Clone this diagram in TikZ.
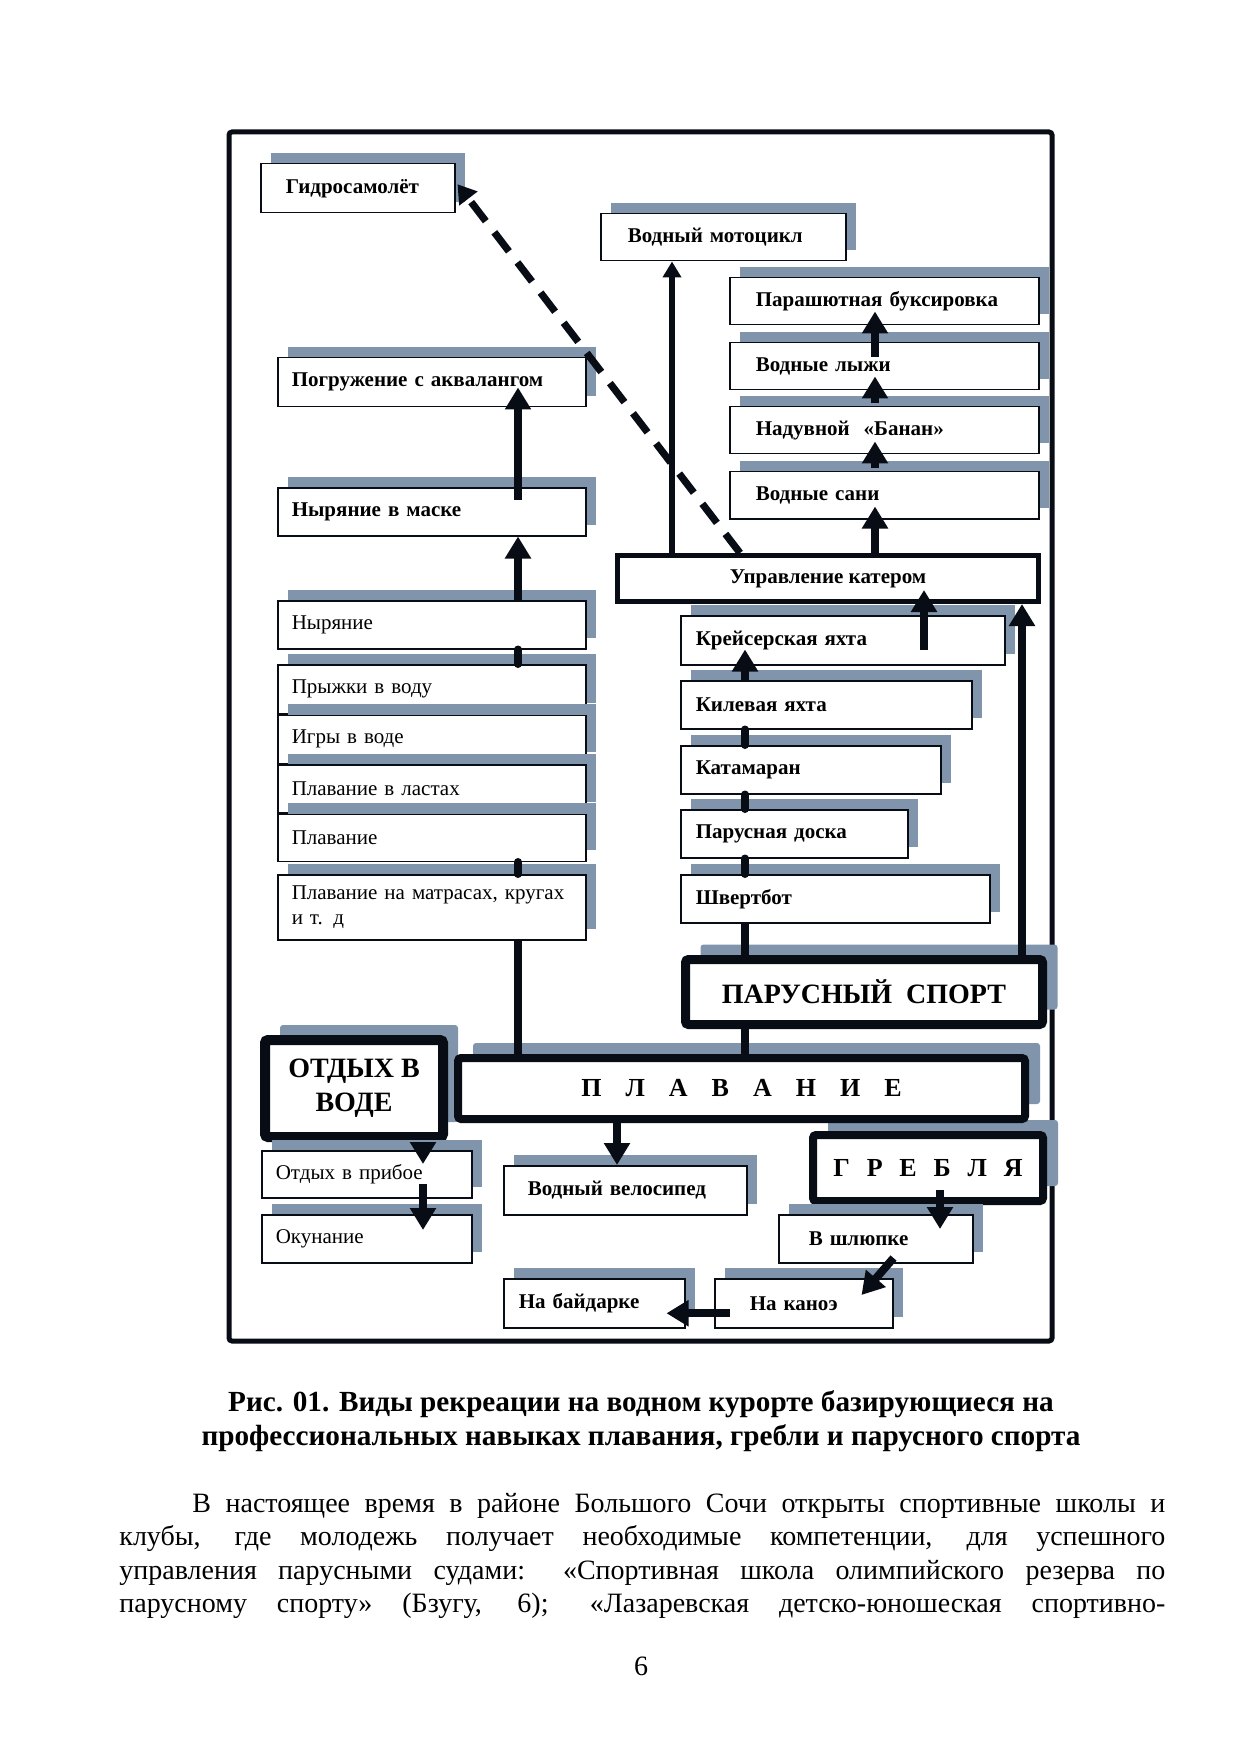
\documentclass[tikz,border=0pt]{standalone}
\usepackage{fontspec}
\setmainfont{Liberation Serif}
\usepackage{tikz}
\usetikzlibrary{arrows.meta,shadows,calc,positioning}
\definecolor{shadowblue}{RGB}{128,148,172}
\definecolor{inkblack}{RGB}{8,12,20}
\newcommand{\wgap}{\hspace{12pt}}
\newcommand{\ngap}{\hspace{8.4pt}}

\tikzset{
	box/.style={draw=inkblack, line width=0.75pt, fill=white, anchor=north west,
		inner ysep=0pt, align=left, minimum height=24pt,
		font=\fontsize{10.5}{12.5}\selectfont\bfseries,
		general shadow={fill=shadowblue, shadow xshift=5pt, shadow yshift=5.5pt}},
	lightbox/.style={box, font=\fontsize{10.5}{12.5}\selectfont},
	lbox/.style={box, text width=140pt, inner xsep=7pt},
	tbox/.style={box, text width=128.5pt, inner xsep=13pt, minimum height=23.5pt},
	sbox/.style={box, inner xsep=7.5pt},
	bigbox/.style={draw=inkblack, fill=white, anchor=north west, rounded corners=1.5pt,
		inner sep=0pt, align=center, font=\fontsize{14}{17}\selectfont\bfseries,
		general shadow={fill=shadowblue, shadow xshift=7.5pt, shadow yshift=7.5pt}},
	arr/.style={draw=inkblack, line width=4pt, -{Triangle[width=12.5pt,length=11pt]}},
	thinarr/.style={draw=inkblack, line width=3pt, -{Triangle[width=9pt,length=8pt]}},
	dasharr/.style={draw=inkblack, line width=3.6pt, dash pattern=on 12pt off 7pt,
		-{Triangle[width=11pt,length=9pt]}},
	bar/.style={draw=inkblack, line width=4pt, line cap=round},
	stem/.style={draw=inkblack, line width=4pt},
	pagetext/.style={inner sep=0pt, font=\fontsize{14}{17}\selectfont},
	captext/.style={inner sep=0pt, anchor=base, font=\fontsize{14.6}{17}\selectfont\bfseries}
}

\begin{document}
\begin{tikzpicture}[x=0.5pt,y=-0.5pt]
	\path[use as bounding box, fill=white] (0,0) rectangle (1241,1754);
	% frame
	\draw[draw=inkblack, line width=2.5pt, rounded corners=1.5pt] (229,132) rectangle (1052,1341);

	% columns of the connectors
	\coordinate (colL) at (518,0);
	\coordinate (colS) at (745,0);
	\coordinate (colK) at (924,0);
	\coordinate (colR) at (1022,0);
	\coordinate (colT) at (875,0);
	\coordinate (colM) at (672,0);
	\coordinate (colD) at (740,0);
	\coordinate (colV) at (617,0);
	\coordinate (colO) at (423,0);
	\coordinate (colG) at (940,0);

	% Define nodes
	\node[box, text width=72pt, inner xsep=12.5pt, minimum height=24.5pt] (gidro) at (260,163) {Гидросамолёт};
	\node[box, text width=95.5pt, inner xsep=13.5pt, minimum height=23.5pt] (moto) at (600,213) {Водный мотоцикл};

	\node[tbox] (para) at (729,277) {Парашютная буксировка};
	\node[tbox] (lyzhi) at (729,342) {Водные лыжи};
	\node[tbox] (banan) at (729,406) {Надувной \ «Банан»};
	\node[tbox] (sani) at (729,471) {Водные сани};

	\node[lbox, minimum height=24.5pt] (akva) at (277,357) {Погружение с аквалангом};
	\node[lbox] (maska) at (277,487) {Ныряние в маске};
	\node[lbox, lightbox] (nyr) at (277,600) {Ныряние};
	\node[lbox, lightbox, minimum height=24.5pt] (pryzh) at (277,664) {Прыжки в воду};
	\node[lbox, lightbox] (igry) at (pryzh.south west) {Игры в воде};
	\node[lbox, lightbox] (lasty) at (igry.south west) {Плавание в ластах};
	\node[lbox, lightbox, minimum height=23.5pt] (plav) at (lasty.south west) {Плавание};
	\node[lbox, lightbox, minimum height=32.5pt] (matr) at (277,874) {Плавание на матрасах, кругах\\и т. д};

	\node[draw=inkblack, line width=2.5pt, fill=white, anchor=north west, inner sep=0pt,
		minimum width=210.5pt, minimum height=23pt,
		font=\fontsize{10.5}{12.5}\selectfont\bfseries] (upr) at (615,553) {Управление катером};

	\node[sbox, text width=147pt, minimum height=24.5pt] (kreis) at (680,615) {Крейсерская яхта};
	\node[sbox, text width=130.5pt] (kil) at (680,680) {Килевая яхта};
	\node[sbox, text width=115pt] (katam) at (680,745) {Катамаран};
	\node[sbox, text width=98.5pt] (doska) at (680,809) {Парусная доска};
	\node[sbox, text width=139.5pt] (shvert) at (680,874) {Швертбот};

	\node[bigbox, line width=4.5pt, minimum width=178.5pt, minimum height=32.5pt] (sail) at (681,955) {ПАРУСНЫЙ \ СПОРТ};
	\node[bigbox, line width=5pt, minimum width=89pt, minimum height=48.5pt] (rest) at (260,1035) {ОТДЫХ В\\ВОДЕ};
	\node[bigbox, line width=4pt, minimum width=115pt, minimum height=33pt,
		font=\fontsize{13}{15}\selectfont\bfseries] (row) at (809,1131) {Г\ngap Р\ngap Е\ngap Б\ngap Л\ngap Я};
	\node[bigbox, line width=4pt, minimum width=283.5pt, minimum height=30.5pt,
		font=\fontsize{13}{15}\selectfont\bfseries] (swim) at (454,1054) {П\wgap Л\wgap А\wgap В\wgap А\wgap Н\wgap И\wgap Е};

	\node[box, lightbox, text width=91pt, inner xsep=7pt, minimum height=23.5pt] (pribo) at (261,1150) {Отдых в прибое};
	\node[box, lightbox, text width=91pt, inner xsep=7pt] (okun) at (261,1214) {Окунание};
	\node[box, text width=97.5pt, inner xsep=12pt, minimum height=24.5pt] (velo) at (503,1165) {Водный велосипед};
	\node[box, text width=67pt, inner xsep=15pt] (shlup) at (778,1214) {В шлюпке};
	\node[box, text width=75.5pt, inner xsep=7.5pt, minimum height=24.5pt] (baid) at (503,1278) {На байдарке};
	\node[box, text width=54pt, inner xsep=17.5pt, minimum height=24.5pt] (kano) at (714,1278) {На каноэ};

	% left column
	\draw[arr] ($(colL |- maska.north)+(0,13)$) -- ($(colL |- akva.south)+(0,-20)$);
	\draw[arr] (colL |- nyr.north) -- (colL |- maska.south);
	\draw[bar] (colL |- nyr.south) -- (colL |- pryzh.north);
	\draw[bar] (colL |- plav.south) -- (colL |- matr.north);
	\draw[stem] (colL |- matr.south) -- (colL |- swim.north);

	% sailing
	\draw[bar] (colS |- kil.south) -- (colS |- katam.north);
	\draw[bar] (colS |- katam.south) -- (colS |- doska.north);
	\draw[bar] (colS |- doska.south) -- (colS |- shvert.north);
	\draw[stem] (colS |- shvert.south) -- (colS |- sail.north);
	\draw[stem] (colS |- sail.south) -- (colS |- swim.north);
	\draw[arr] (colS |- kil.north) -- ($(colS |- kreis.south)+(0,-16)$);
	\draw[arr] ($(colK |- kreis.south)+(0,-16)$) -- ($(colK |- upr.south)+(0,-14)$);
	\draw[arr] (colR |- sail.north) -- (colR |- upr.south);

	% towing
	\draw[arr] (colT |- upr.north) -- ($(colT |- sani.south)+(0,-13)$);
	\draw[arr] ($(colT |- sani.north)+(0,-3)$) -- ($(colT |- banan.south)+(0,-13)$);
	\draw[arr] ($(colT |- banan.north)+(0,-3)$) -- ($(colT |- lyzhi.south)+(0,-14)$);
	\draw[arr] ($(colT |- lyzhi.north)+(0,15)$) -- ($(colT |- para.south)+(0,-14)$);
	\draw[thinarr] (colM |- upr.north) -- (colM |- moto.south);
	\draw[dasharr] (colD |- upr.north) -- ($(gidro.east)+(2,-4)$);

	% bottom row
	\draw[arr] (colV |- swim.south) -- (colV |- velo.north);
	\draw[arr] (colO |- rest.south) -- ($(colO |- pribo.north)+(0,14)$);
	\draw[arr] ($(colO |- pribo.south)+(0,-15)$) -- ($(colO |- okun.north)+(0,16)$);
	\draw[arr] ($(colG |- row.south)+(0,-15)$) -- ($(colG |- shlup.north)+(0,15)$);
	\draw[arr] ($(kano.north east)+(0,-20)$) -- ($(kano.north east)+(-32,17)$);
	\draw[arr] ($(kano.west)+(16,10)$) -- ($(baid.east)+(-19,10)$);

	% caption and text of the page
	\node[captext] (cap1) at (641,1411)
		{Рис. 01. Виды рекреации на водном курорте базирующиеся на};
	\node[captext] (cap2) at (641,1445)
		{профессиональных навыках плавания, гребли и парусного спорта};
	\node[pagetext, anchor=base west] (par1) at (192,1512)
		{\makebox[486.5pt][s]{В настоящее время в районе Большого Сочи открыты спортивные школы и}};
	\node[pagetext, anchor=base west] (par2) at (119,1545)
		{\makebox[523pt][s]{клубы, где молодежь получает необходимые компетенции, для успешного}};
	\node[pagetext, anchor=base west] (par3) at (119,1579)
		{\makebox[523pt][s]{управления парусными судами: «Спортивная школа олимпийского резерва по}};
	\node[pagetext, anchor=base west] (par4) at (119,1612)
		{\makebox[523pt][s]{парусному спорту» (Бзугу, 6); «Лазаревская детско-юношеская спортивно-}};
	\node[pagetext, anchor=base] (pnum) at (641,1675) {6};
\end{tikzpicture}
\end{document}
